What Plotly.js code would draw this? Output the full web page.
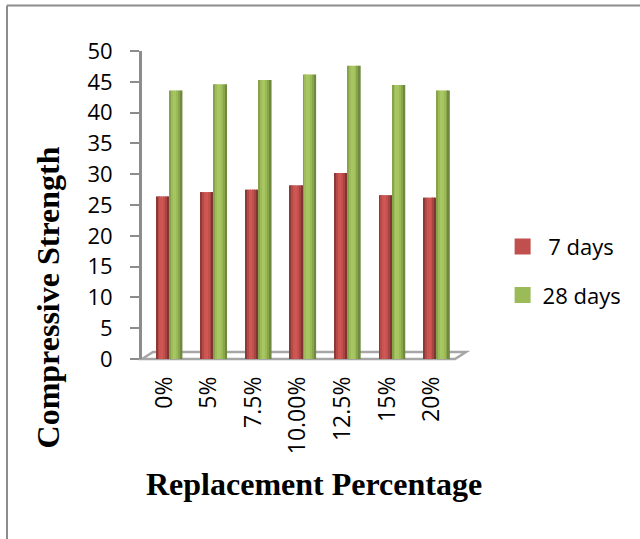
<!DOCTYPE html>
<html><head><meta charset="utf-8">
<script src="https://cdn.plot.ly/plotly-3.0.1.min.js"></script>
<style>html,body{margin:0;padding:0;background:#fff}</style></head>
<body><div id="chart" style="width:640px;height:539px"></div>
<script>
const categories = ['0%','5%','7.5%','10.00%','12.5%','15%','20%'];
const days7 = [26.4,27.1,27.5,28.2,30.2,26.6,26.2];
const days28 = [43.6,44.6,45.3,46.2,47.6,44.5,43.6];
const names = ['7 days','28 days'];
const redShades = ['#8c3a38','#b54a47','#cb5552','#cf5855','#c4504d','#a84543','#7f3533'];
const greenShades = ['#86a24a','#9dbb58','#a8c662','#a6c460','#9aba57','#88a54c','#6f8a3e'];
const xs = categories.map((c,i)=>i);
const sliceW = 0.29/7;
const traces = [];
function addCylinder(values, shades, start, name){
  shades.forEach((col,k)=>{
    traces.push({type:'bar',x:xs,y:values,width:sliceW*1.05,offset:start+k*sliceW,
      marker:{color:col,line:{width:0}},showlegend:false,hoverinfo:'skip',name:name});
  });
}
addCylinder(days7,redShades,-0.18,names[0]);
addCylinder(days28,greenShades,0.115,names[1]);
traces.push({type:'scatter',mode:'markers',x:[null],y:[null],name:'\u00a07 days',showlegend:true,legendgroup:'a',
  marker:{symbol:'square',size:16,color:'#c0504d'}});
traces.push({type:'scatter',mode:'markers',x:[null],y:[null],name:names[1],showlegend:true,legendgroup:'b',
  marker:{symbol:'square',size:16,color:'#9bbb59'}});
const tickFont = {size:22,family:'Open Sans, sans-serif',color:'#000'};
const xTickFont = {size:23,family:'Open Sans, sans-serif',color:'#000'};
const titleFont = {size:32,family:'Liberation Serif, serif',color:'#000'};
const layout = {
  width:640,height:539,
  margin:{l:142,r:174,t:51,b:180,pad:0},
  paper_bgcolor:'#fff',plot_bgcolor:'rgba(0,0,0,0)',
  barmode:'overlay',showlegend:true,
  font:{family:'Open Sans, sans-serif',color:'#000'},
  xaxis:{type:'linear',range:[-0.5,6.77],tickmode:'array',tickvals:xs,ticktext:categories,
    tickangle:-90,ticks:'',showgrid:false,zeroline:false,showline:false,ticklabelstandoff:12,
    tickfont:xTickFont},
  yaxis:{range:[0,50],tick0:0,dtick:5,ticks:'outside',ticklen:9,tickwidth:2,tickcolor:'#8c8c8c',
    showgrid:false,zeroline:false,showline:true,linecolor:'#8c8c8c',linewidth:3,ticklabelstandoff:13,
    tickfont:tickFont},
  legend:{x:1.113,xanchor:'left',y:0.285,yanchor:'middle',font:{size:22,family:'Open Sans, sans-serif',color:'#000'},
    itemsizing:'trace',tracegroupgap:17,bgcolor:'rgba(0,0,0,0)',borderwidth:0},
  annotations:[
    {text:'<b>Replacement Percentage</b>',xref:'paper',yref:'paper',showarrow:false,
     x:0.53,y:-0.407,xanchor:'center',yanchor:'middle',font:titleFont},
    {text:'<b>Compressive Strength</b>',xref:'paper',yref:'paper',showarrow:false,textangle:-90,
     x:-0.29,y:0.2,xanchor:'center',yanchor:'middle',font:titleFont}
  ],
  shapes:[
    {type:'path',xref:'paper',yref:'paper',layer:'below',
     path:'M 0 0 L 0.966 0 L 1 0.0227 L 0.034 0.0227 Z',line:{color:'#a6a6a6',width:2.5},fillcolor:'#fff'},
    {type:'line',xref:'paper',yref:'paper',layer:'below',x0:-0.4167,x1:-0.4167,y0:-0.6,y1:1.148,line:{color:'#8c8c8c',width:2}},
    {type:'line',xref:'paper',yref:'paper',layer:'below',x0:-0.4167,x1:1.56,y0:1.148,y1:1.148,line:{color:'#8c8c8c',width:2}}
  ]
};
Plotly.newPlot('chart',traces,layout,{displayModeBar:false,responsive:false});
</script></body></html>
